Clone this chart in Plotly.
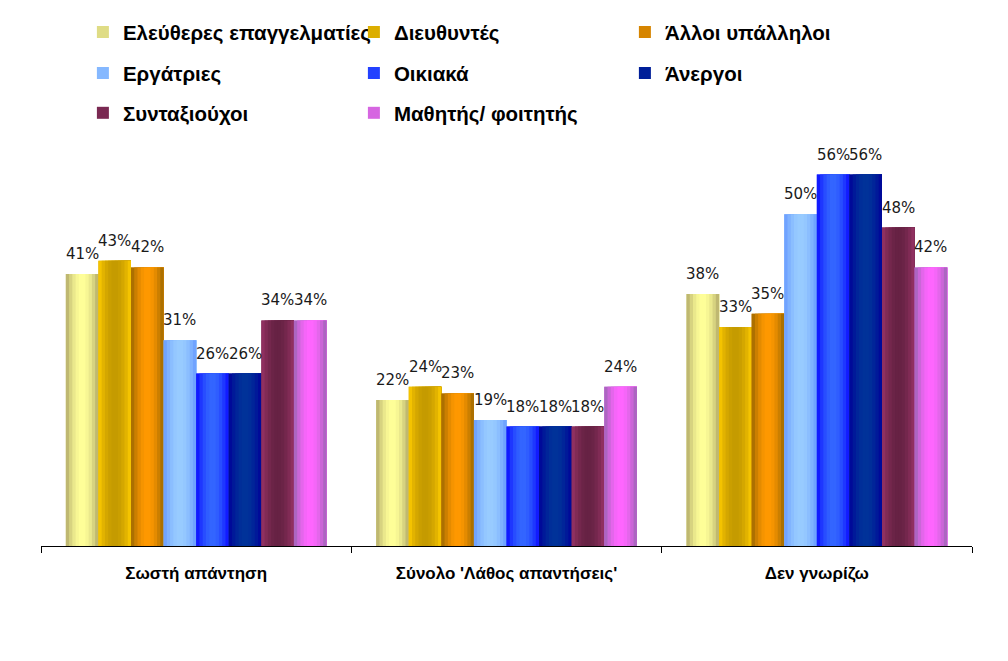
import math
import plotly.graph_objects as go

categories = ["Σωστή απάντηση", "Σύνολο 'Λάθος απαντήσεις'", "Δεν γνωρίζω"]

series_names = [
    "Ελεύθερες επαγγελματίες",
    "Διευθυντές",
    "Άλλοι υπάλληλοι",
    "Εργάτριες",
    "Οικιακά",
    "Άνεργοι",
    "Συνταξιούχοι",
    "Μαθητής/ φοιτητής",
]

eleftheres = [41, 22, 38]
dieuthyntes = [43, 24, 33]
alloi_ypalliloi = [42, 23, 35]
ergatries = [31, 19, 50]
oikiaka = [26, 18, 56]
anergoi = [26, 18, 56]
syntaxiouxoi = [34, 18, 48]
mathites = [34, 24, 42]

series_values = [eleftheres, dieuthyntes, alloi_ypalliloi, ergatries,
                 oikiaka, anergoi, syntaxiouxoi, mathites]

# (edge colour, centre colour) of the cylinder-like gradient of each series
gradients = [
    ("#B0A868", "#FFFF99"),
    ("#FFCC00", "#C49A00"),
    ("#996600", "#FF9900"),
    ("#6699FF", "#99CCFF"),
    ("#0A0AFF", "#3366FF"),
    ("#000099", "#003399"),
    ("#993366", "#662244"),
    ("#9966B3", "#FF66FF"),
]

legend_of = ["legend", "legend", "legend", "legend2", "legend2", "legend2", "legend3", "legend3"]


def hex2rgb(h):
    h = h.lstrip("#")
    return tuple(int(h[i:i + 2], 16) for i in (0, 2, 4))


def mix(c1, c2, s):
    a, b = hex2rgb(c1), hex2rgb(c2)
    return "rgb(%d,%d,%d)" % tuple(round(a[i] + (b[i] - a[i]) * s) for i in range(3))


n_series = len(series_names)
group_half = 0.42
bar_w = 2 * group_half / n_series
n_strips = 10

fig = go.Figure()
annotations = []
for i, (name, vals) in enumerate(zip(series_names, series_values)):
    edge, centre = gradients[i]
    start = -group_half + i * bar_w
    # base bar carrying the legend entry
    fig.add_trace(go.Bar(
        x=categories, y=vals, name=name,
        offset=start, width=bar_w,
        marker=dict(color=mix(edge, centre, 0.6), line=dict(width=0)),
        legend=legend_of[i], hoverinfo="skip",
    ))
    for k in range(n_strips):
        t = (k + 0.5) / n_strips
        s = math.sin(math.pi * t) ** 0.9
        s0 = start + k * bar_w / n_strips
        fig.add_trace(go.Bar(
            x=categories, y=vals, showlegend=False,
            offset=s0, width=start + bar_w - s0,
            marker=dict(color=mix(edge, centre, s), line=dict(width=0)),
            hoverinfo="skip",
        ))
    for ci, v in enumerate(vals):
        annotations.append(dict(
            x=ci + start + bar_w / 2, y=v, xref="x", yref="y",
            text=f"{v}%", showarrow=False, yanchor="bottom", yshift=9,
            font=dict(family="DejaVu Sans", size=15, color="#1a1a1a"),
        ))

legend_common = dict(
    orientation="h", xanchor="left", yanchor="middle",
    entrywidth=226, entrywidthmode="pixels",
    font=dict(family="Liberation Sans", size=20.5, color="#000000", weight="bold"),
    bgcolor="rgba(0,0,0,0)", itemclick=False, itemdoubleclick=False,
)

fig.update_layout(
    width=1008, height=661,
    margin=dict(l=33, r=44, t=140, b=123, autoexpand=False),
    paper_bgcolor="white", plot_bgcolor="white",
    barmode="overlay",
    showlegend=True,
    legend=dict(x=0.045, y=1.291, **legend_common),
    legend2=dict(x=0.045, y=1.188, **legend_common),
    legend3=dict(x=0.045, y=1.088, **legend_common),
    annotations=annotations,
    xaxis=dict(
        type="category", showline=True, linecolor="black", linewidth=1,
        ticks="outside", tickson="boundaries", ticklen=6, tickcolor="black",
        ticklabelstandoff=12,
        tickfont=dict(family="Liberation Sans Narrow, Arial Narrow, Liberation Sans",
                      size=17, color="#000000", weight="bold"),
        showgrid=False, fixedrange=True,
    ),
    yaxis=dict(range=[0, 60], visible=False, showgrid=False, fixedrange=True),
)

fig.write_html("out.html")
